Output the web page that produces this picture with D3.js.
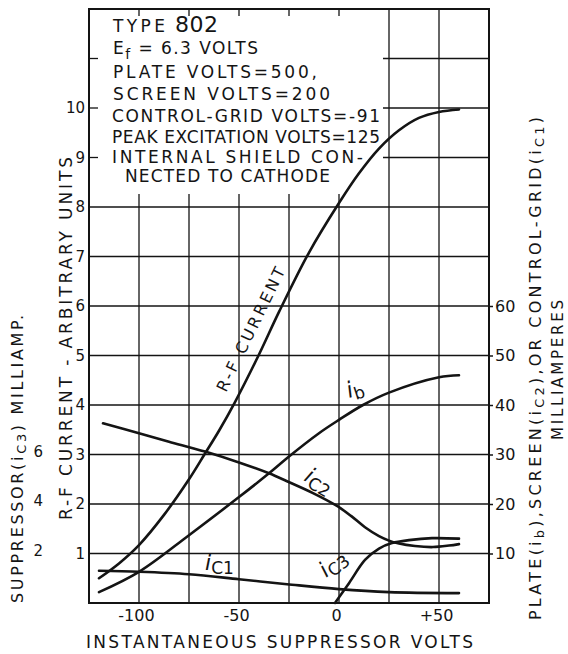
<!DOCTYPE html>
<html>
<head>
<meta charset="utf-8">
<script src="https://cdn.jsdelivr.net/npm/d3@7"></script>
<style>
    html, body { margin: 0; padding: 0; background: #fff; }
    svg { display: block; }
</style>
</head>
<body>
<svg id="chart" width="568" height="654"></svg>
<script>
// --- Data ---
// x = instantaneous suppressor volts
const rfVolts   = [-120, -110, -100, -87.5, -75, -67, -60, -52, -40, -30, -15, 0, 10, 20, 30, 40, 50, 60];
const rfCurrent = [0.5, 0.8, 1.17, 1.78, 2.5, 3.02, 3.48, 4.06, 5.02, 5.88, 7.08, 8.08, 8.68, 9.18, 9.55, 9.8, 9.92, 9.97]; // arbitrary units

const ibVolts = [-120, -100, -75, -50, -35, -25, -10, 0, 12, 25, 50, 60];
const ibMa    = [2.2, 6.3, 13.7, 21.4, 26.2, 29.6, 34.3, 37.0, 40.0, 42.5, 45.6, 46.0];

const ic2Volts = [-118, -100, -85, -67, -50, -35, -26, -13, -1, 6, 13, 20, 25, 30, 38, 47, 55, 60];
const ic2Ma    = [36.3, 34.3, 32.6, 30.6, 28.4, 26.2, 24.6, 22.2, 19.6, 17.6, 15.3, 13.5, 12.6, 12.0, 11.5, 11.3, 11.6, 11.9];

const ic1Volts = [-120, -100, -75, -50, -26, 0, 25, 60];
const ic1Ma    = [6.5, 6.3, 5.8, 4.8, 3.8, 2.8, 2.2, 2.0];

const ic3Volts = [-2, 5, 13, 20, 26.5, 35, 46.5, 60];
const ic3Ma    = [0, 0.8, 1.74, 2.2, 2.42, 2.54, 2.62, 2.6]; // suppressor milliamp scale

// ticks and grid
const xTicks   = [-100, -50, 0, 50];
const rfTicks  = [1, 2, 3, 4, 5, 6, 7, 8, 9, 10];
const maTicks  = [10, 20, 30, 40, 50, 60];
const supTicks = [2, 4, 6];
const gridVolts = [-100, -75, -50, -25, 0, 25, 50];
const gridUnits = [1, 2, 3, 4, 5, 6, 7, 8, 9, 10, 11];

// notes block, {..} = subscript
const noteLines = [
    'TYPE ',
    'E{f} = 6.3 VOLTS',
    'PLATE VOLTS=500,',
    'SCREEN VOLTS=200',
    'CONTROL-GRID VOLTS=-91',
    'PEAK EXCITATION VOLTS=125',
    'INTERNAL SHIELD CON-',
    'NECTED TO CATHODE'
];
const typeNumber = '802';

// --- Layout ---
const FONT = "'DejaVu Sans', sans-serif";
const INK = '#141414';
const P = { left: 89, right: 489, top: 9, bottom: 603 };
const NOTE_BOX = { x1: 90, x2: 383, y1: 10, y2: 194 };
const NOTE_POS = [ // [x, baseline, width]
    [113, 32, 52], [113, 54, 145], [113, 78, 204], [113, 100, 217],
    [112, 122, 268], [112, 143, 268], [112, 163, 251], [125, 182, 205]
];

const svg = d3.select('#chart').attr('font-family', FONT);
svg.append('rect').attr('width', 568).attr('height', 654).attr('fill', '#fff');

const x = d3.scaleLinear().domain([-125, 75]).range([P.left, P.right]);
const yRF = d3.scaleLinear().domain([0, 12]).range([P.bottom, P.top]);
const yMA = d3.scaleLinear().domain([0, 120]).range([P.bottom, P.top]);
const ySup = d3.scaleLinear().domain([0, 24]).range([P.bottom, P.top]);

// text with {sub} parts as tspans
function richText(sel, str, size, subSize, shift, italicMain) {
    let cur = 0;
    str.split(/(\{[^}]*\})/).filter(s => s).forEach(part => {
        const isSub = part[0] === '{';
        const t = sel.append('tspan')
            .attr('font-size', isSub ? subSize : size)
            .attr('dy', (isSub ? shift : 0) - cur)
            .text(isSub ? part.slice(1, -1) : part);
        if (!isSub && italicMain) t.attr('font-style', 'italic');
        cur = isSub ? shift : 0;
    });
    return sel;
}

// --- 1. Grid ---
const grid = svg.append('g').attr('stroke', INK).attr('stroke-width', 1.3);
grid.selectAll('.gv').data(gridVolts).enter().append('line')
    .attr('x1', d => x(d)).attr('x2', d => x(d))
    .attr('y1', P.top).attr('y2', P.bottom);
grid.selectAll('.gh').data(gridUnits).enter().append('line')
    .attr('x1', P.left).attr('x2', P.right)
    .attr('y1', d => yRF(d)).attr('y2', d => yRF(d));

// white patch behind the notes, leaving short stubs at the frame
svg.append('rect')
    .attr('x', NOTE_BOX.x1).attr('y', NOTE_BOX.y1)
    .attr('width', NOTE_BOX.x2 - NOTE_BOX.x1).attr('height', NOTE_BOX.y2 - NOTE_BOX.y1)
    .attr('fill', '#fff');
const stubs = svg.append('g').attr('stroke', INK).attr('stroke-width', 1.3);
stubs.selectAll('.sv').data(gridVolts.filter(d => x(d) < NOTE_BOX.x2)).enter().append('line')
    .attr('x1', d => x(d)).attr('x2', d => x(d))
    .attr('y1', P.top).attr('y2', P.top + 7);
stubs.selectAll('.sh').data(gridUnits.filter(d => yRF(d) < NOTE_BOX.y2)).enter().append('line')
    .attr('x1', P.left).attr('x2', P.left + 9)
    .attr('y1', d => yRF(d)).attr('y2', d => yRF(d));

// frame
svg.append('rect')
    .attr('x', P.left).attr('y', P.top)
    .attr('width', P.right - P.left).attr('height', P.bottom - P.top)
    .attr('fill', 'none').attr('stroke', INK).attr('stroke-width', 2);

// --- 2. Notes ---
const notes = svg.append('g').attr('fill', INK);
noteLines.forEach((line, i) => {
    const [nx, ny, nw] = NOTE_POS[i];
    const t = notes.append('text').attr('x', nx).attr('y', ny)
        .attr('textLength', nw).attr('lengthAdjust', 'spacing');
    richText(t, line, 17, 14, 5, false);
});
notes.append('text').attr('x', 175).attr('y', 32)
    .attr('font-size', 22).attr('textLength', 43).text(typeNumber);

// --- 3. Curves ---
const series = [
    { xs: rfVolts, ys: rfCurrent, y: yRF },
    { xs: ibVolts, ys: ibMa, y: yMA },
    { xs: ic2Volts, ys: ic2Ma, y: yMA },
    { xs: ic1Volts, ys: ic1Ma, y: yMA },
    { xs: ic3Volts, ys: ic3Ma, y: ySup }
];
series.forEach(s => {
    const line = d3.line()
        .x(i => x(s.xs[i]))
        .y(i => s.y(s.ys[i]))
        .curve(d3.curveCatmullRom.alpha(0.5));
    svg.append('path')
        .datum(d3.range(s.xs.length))
        .attr('d', line)
        .attr('fill', 'none')
        .attr('stroke', INK)
        .attr('stroke-width', 2.6)
        .attr('stroke-linecap', 'round');
});

// curve labels
svg.append('text').attr('fill', INK)
    .attr('transform', 'translate(226,393) rotate(-64)')
    .attr('font-size', 16).attr('textLength', 136).text('R-F CURRENT');

const curveLabels = [
    { str: 'i{b}', tr: 'translate(349,398) rotate(-18)' },
    { str: 'i{C2}', tr: 'translate(303,480) rotate(30)' },
    { str: 'i{C3}', tr: 'translate(326,578) rotate(-38)' },
    { str: 'i{C1}', tr: 'translate(205,570)' }
];
curveLabels.forEach(l => {
    const t = svg.append('text').attr('fill', INK).attr('transform', l.tr);
    richText(t, l.str, 22, 17, 4, true);
});

// --- 4. Axes ---
function styleAxis(g, size) {
    g.select('.domain').remove();
    g.selectAll('text').attr('font-family', FONT).attr('font-size', size).attr('fill', INK);
    g.selectAll('line').attr('stroke', INK).attr('stroke-width', 1.5);
}

svg.append('g').attr('transform', `translate(${P.left},0)`)
    .call(d3.axisLeft(yRF).tickValues(rfTicks).tickSize(0).tickPadding(4))
    .call(g => styleAxis(g, 15));

svg.append('g').attr('transform', `translate(${P.right},0)`)
    .call(d3.axisRight(yMA).tickValues(maTicks).tickSize(4).tickPadding(2))
    .call(g => styleAxis(g, 16));

svg.append('g').attr('transform', 'translate(45,-3)')
    .call(d3.axisLeft(ySup).tickValues(supTicks).tickSize(0).tickPadding(2))
    .call(g => styleAxis(g, 15));

svg.append('g').attr('transform', `translate(-3,${P.bottom})`)
    .call(d3.axisBottom(x).tickValues(xTicks).tickSize(0).tickPadding(7)
        .tickFormat(d => d > 0 ? '+' + d : String(d).replace('\u2212', '-')))
    .call(g => styleAxis(g, 16));

// --- 5. Axis titles ---
svg.append('text').attr('fill', INK).attr('x', 86).attr('y', 648)
    .attr('font-size', 17).attr('textLength', 387)
    .text('INSTANTANEOUS SUPPRESSOR VOLTS');

svg.append('text').attr('fill', INK)
    .attr('transform', 'translate(72,520) rotate(-90)')
    .attr('font-size', 17).attr('textLength', 363)
    .text('R-F CURRENT - ARBITRARY UNITS');

const supTitle = svg.append('text').attr('fill', INK)
    .attr('transform', 'translate(23,603) rotate(-90)')
    .attr('textLength', 288);
richText(supTitle, 'SUPPRESSOR(i{C3}) MILLIAMP.', 16, 13, 3, false);

const maTitle = svg.append('text').attr('fill', INK)
    .attr('transform', 'translate(541,620) rotate(-90)')
    .attr('textLength', 503);
richText(maTitle, 'PLATE(i{b}),SCREEN(i{C2}),OR CONTROL-GRID(i{C1})', 16, 13, 3, false);

svg.append('text').attr('fill', INK)
    .attr('transform', 'translate(563,440) rotate(-90)')
    .attr('font-size', 15).attr('textLength', 140)
    .text('MILLIAMPERES');
</script>
</body>
</html>
